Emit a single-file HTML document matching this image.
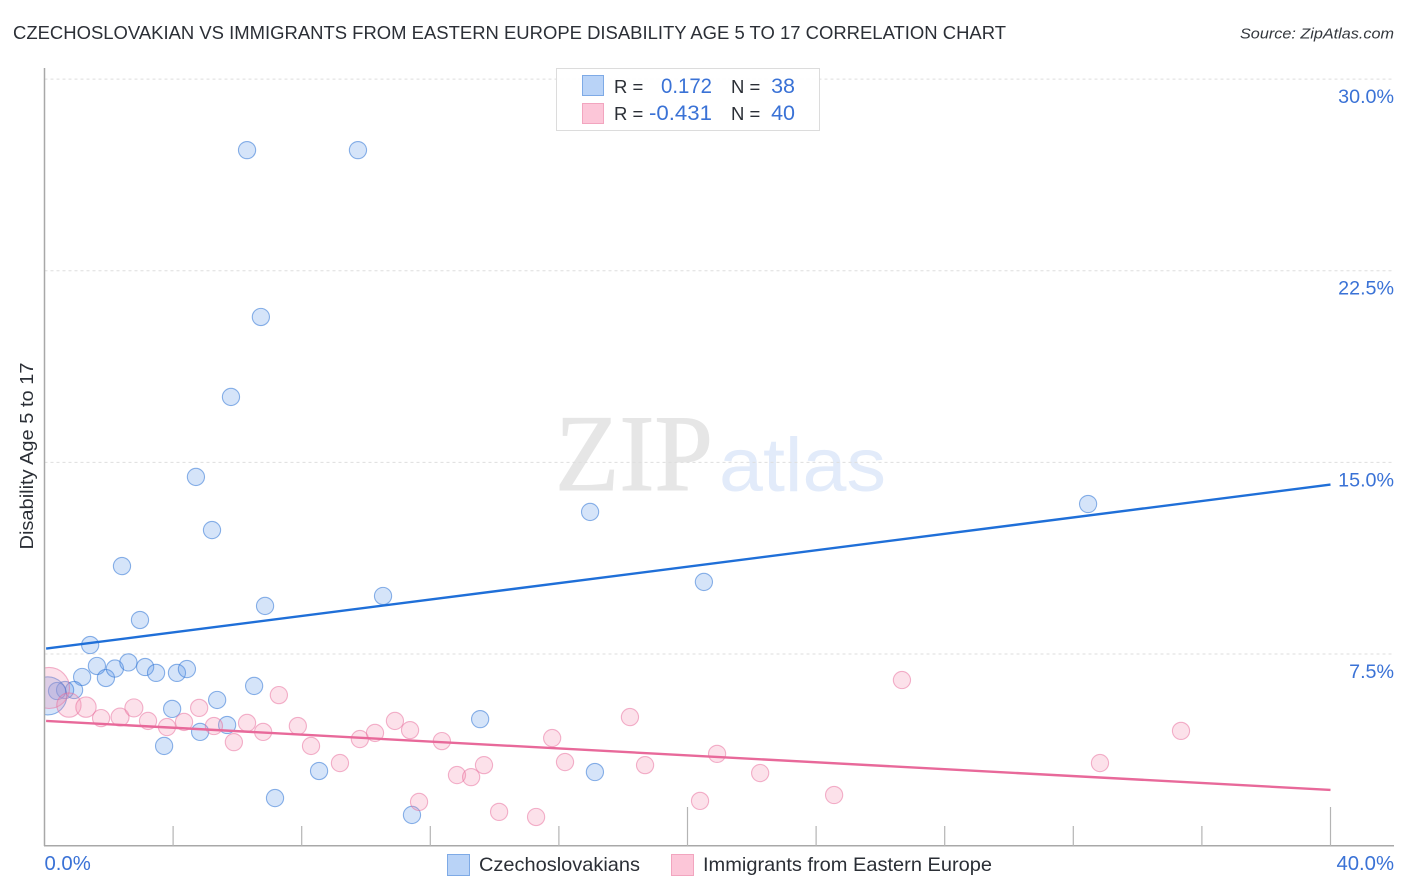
<!DOCTYPE html>
<html lang="en">
<head>
<meta charset="utf-8">
<title>Czechoslovakian vs Immigrants from Eastern Europe Disability Age 5 to 17 Correlation Chart</title>
<style>
html,body{margin:0;padding:0;background:#fff;}
svg{display:block;font-family:"Liberation Sans",sans-serif;}
</style>
</head>
<body>
<svg id="chart" xmlns="http://www.w3.org/2000/svg" width="1406" height="892" viewBox="0 0 1406 892">
  <rect x="0" y="0" width="1406" height="892" fill="#fff"></rect>
  <text x="13" y="39" font-size="18.6" fill="#2b2f36" textLength="993" lengthAdjust="spacingAndGlyphs">CZECHOSLOVAKIAN VS IMMIGRANTS FROM EASTERN EUROPE DISABILITY AGE 5 TO 17 CORRELATION CHART</text>
  <text x="1394" y="38.5" font-size="15" font-style="italic" fill="#33373d" text-anchor="end" textLength="154" lengthAdjust="spacingAndGlyphs">Source: ZipAtlas.com</text>

  <g>
    <text x="555" y="490" font-family="'Liberation Serif',serif" font-size="109" fill="#e6e6e6" stroke="#e6e6e6" stroke-width="1" textLength="158" lengthAdjust="spacingAndGlyphs">ZIP</text>
    <text x="719" y="491" font-size="76" fill="#e2ebfa" textLength="167" lengthAdjust="spacingAndGlyphs">atlas</text>
  </g>

  <g id="grid"></g>
  <g id="marks"></g>
  <rect x="0" y="60" width="44.5" height="786" fill="#fff"></rect>
  <g id="axes"></g>
  <g id="trends"></g>
  <g id="ticklabels"></g>

  <text transform="translate(33,456) rotate(-90)" font-size="18" fill="#2b2f36" text-anchor="middle" textLength="187" lengthAdjust="spacingAndGlyphs">Disability Age 5 to 17</text>

  <g>
    <rect x="556.5" y="68.5" width="263" height="62" fill="#fff" fill-opacity="0.9" stroke="#dcdcdc" stroke-width="1"></rect>
    <rect x="582.5" y="75.5" width="21" height="20" fill="#b9d3f7" stroke="#7eaae6" stroke-width="1"></rect>
    <rect x="582.5" y="103.5" width="21" height="20" fill="#fcc6d8" stroke="#f2a5bf" stroke-width="1"></rect>
    <text x="614" y="93" font-size="18.5" fill="#2b2f36">R =</text>
    <text x="661" y="93" font-size="21" fill="#3a72d6" textLength="51" lengthAdjust="spacingAndGlyphs">0.172</text>
    <text x="731" y="93" font-size="18.5" fill="#2b2f36">N =</text>
    <text x="795" y="93" font-size="21.5" fill="#3a72d6" text-anchor="end">38</text>
    <text x="614" y="120" font-size="18.5" fill="#2b2f36">R =</text>
    <text x="649" y="120" font-size="21" fill="#3a72d6" textLength="63" lengthAdjust="spacingAndGlyphs">-0.431</text>
    <text x="731" y="120" font-size="18.5" fill="#2b2f36">N =</text>
    <text x="795" y="120" font-size="21.5" fill="#3a72d6" text-anchor="end">40</text>
  </g>

  <g>
    <g>
      <rect x="447.5" y="854.5" width="22" height="21" fill="#b9d3f7" stroke="#7eaae6" stroke-width="1"></rect>
      <text x="479" y="871" font-size="19.5" fill="#2b2f36" textLength="161" lengthAdjust="spacingAndGlyphs">Czechoslovakians</text>
    </g>
    <g>
      <rect x="671.5" y="854.5" width="22" height="21" fill="#fcc6d8" stroke="#f2a5bf" stroke-width="1"></rect>
      <text x="703" y="871" font-size="19.5" fill="#2b2f36" textLength="289" lengthAdjust="spacingAndGlyphs">Immigrants from Eastern Europe</text>
    </g>
  </g>
</svg>
<script>
// ---- Data (percent values) ----
const blueX = [6.30,9.75,6.73,5.80,4.71,5.21,2.41,2.97,6.86,10.53,1.42,1.63,1.17,1.91,2.19,2.61,3.13,3.47,4.12,4.43,0.92,0.64,0.39,6.52,5.37,3.97,5.68,4.84,3.72,8.54,7.17,11.43,13.55,17.12,16.97,20.51,32.46,0.10];
const blueY = [27.22,27.22,20.69,17.56,14.43,12.35,10.94,8.83,9.38,9.77,7.85,7.03,6.60,6.56,6.93,7.17,6.99,6.76,6.76,6.91,6.09,6.09,6.05,6.25,5.70,5.35,4.72,4.45,3.90,2.92,1.86,1.20,4.95,2.88,13.06,10.32,13.37,5.86];
const blueWeight = [1,1,1,1,1,1,1,1,1,1,1,1,1,1,1,1,1,1,1,1,1,1,1,1,1,1,1,1,1,1,1,1,1,1,1,1,1,4.9];

const pinkX = [0.14,0.76,1.29,1.76,2.35,2.78,3.22,3.81,4.34,4.81,5.27,5.89,6.30,6.80,7.29,7.88,8.29,9.19,9.81,10.28,10.90,11.37,12.36,12.83,13.27,13.67,11.65,14.14,15.29,15.79,16.19,18.21,18.68,20.39,20.92,22.26,24.56,26.67,32.83,35.35];
const pinkY = [6.17,5.50,5.42,4.99,5.03,5.39,4.88,4.64,4.84,5.39,4.68,4.05,4.80,4.45,5.89,4.68,3.90,3.23,4.17,4.41,4.88,4.52,4.09,2.76,2.68,3.15,1.71,1.32,1.12,4.21,3.27,5.03,3.15,1.75,3.59,2.84,1.98,6.48,3.23,4.49];
const pinkWeight = [5.7,2,1.4,1,1.1,1.1,1,1,1,1,1,1,1,1,1,1,1,1,1,1,1,1,1,1,1,1,1,1,1,1,1,1,1,1,1,1,1,1,1,1];

const blueTrendX = [0.05,40];
const blueTrendY = [7.71,14.13];
const pinkTrendX = [0.05,40];
const pinkTrendY = [4.88,2.18];

const yTickValues = [7.5,15,22.5,30];
const yTickLabels = ["7.5%","15.0%","22.5%","30.0%"];
const xTickValues = [0,4,8,12,16,20,24,28,32,36,40];
const xTickMajor = [0,20,40];
const xEndValues = [0,40];
const xEndLabels = ["0.0%","40.0%"];

// ---- Axis functions ----
function X(v){ return 44.5 + v * 32.15; }
function Y(v){ return 845.6 - v * 25.55; }
function R(w){ return 8.6 * Math.sqrt(w); }

const NS = "http://www.w3.org/2000/svg";
function make(tag, parentId, attrs){
  const el = document.createElementNS(NS, tag);
  for (const k in attrs) el.setAttribute(k, attrs[k]);
  document.getElementById(parentId).appendChild(el);
  return el;
}

// Gridlines and y tick labels
yTickValues.forEach(function(v, i){
  const line = make("line", "grid", {x1:44.5, x2:1394, y1:Y(v), y2:Y(v), stroke:"#dedede", "stroke-width":1, "stroke-dasharray":"3 3"});
  
  
  const t = make("text", "ticklabels", {x:1394, y:Y(v)+24, "text-anchor":"end", "font-size":19.7, fill:"#3a72d6"});
  t.textContent = yTickLabels[i];
  
  
});

// Axis lines
const yAxis = make("line", "axes", {x1:44.5, x2:44.5, y1:68, y2:846, stroke:"#a8a8a8", "stroke-width":1.5});


const xAxis = make("line", "axes", {x1:44, x2:1394, y1:845.8, y2:845.8, stroke:"#a8a8a8", "stroke-width":1.5});



xTickValues.forEach(function(v){
  if (v === 0 || v > 40) return;
  const top = xTickMajor.indexOf(v) >= 0 ? 807 : 826;
  const tick = make("line", "axes", {x1:X(v), x2:X(v), y1:top, y2:846, stroke:"#b4b4b4", "stroke-width":1.2});
  
  
});

// X end labels
xEndValues.forEach(function(v, i){
  const t = make("text", "ticklabels", {
    x: i === 0 ? X(v) : 1394,
    y: 870,
    "text-anchor": i === 0 ? "start" : "end",
    "font-size": 20.3,
    fill: "#3a72d6"
  });
  t.textContent = xEndLabels[i];
  
  
});

// Series marks
blueX.forEach(function(v, i){
  const c = make("circle", "marks", {cx:X(v), cy:Y(blueY[i]), r:R(blueWeight[i]), fill:"#5b95e6", "fill-opacity":0.26, stroke:"#2f74d6", "stroke-opacity":0.55, "stroke-width":1.1});
  
  
});
pinkX.forEach(function(v, i){
  const c = make("circle", "marks", {cx:X(v), cy:Y(pinkY[i]), r:R(pinkWeight[i]), fill:"#f48fb1", "fill-opacity":0.27, stroke:"#e8699a", "stroke-opacity":0.5, "stroke-width":1.1});
  
  
});

// Trend lines
const blueLine = make("line", "trends", {x1:X(blueTrendX[0]), y1:Y(blueTrendY[0]), x2:X(blueTrendX[1]), y2:Y(blueTrendY[1]), stroke:"#1f6fd8", "stroke-width":2.4});


const pinkLine = make("line", "trends", {x1:X(pinkTrendX[0]), y1:Y(pinkTrendY[0]), x2:X(pinkTrendX[1]), y2:Y(pinkTrendY[1]), stroke:"#e8699a", "stroke-width":2.4});


</script>
</body>
</html>
